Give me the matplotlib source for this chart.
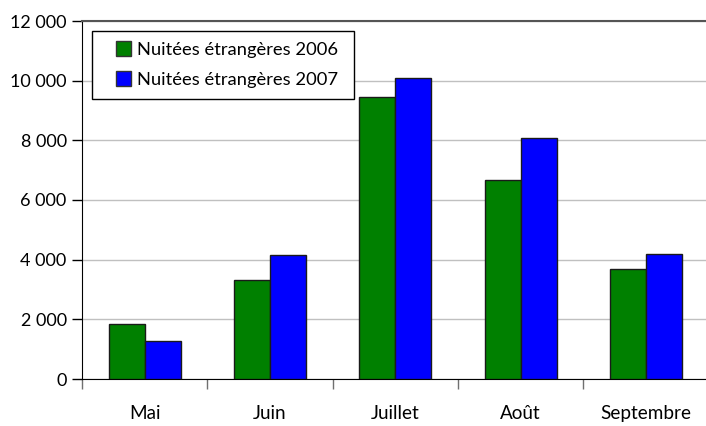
import matplotlib.pyplot as plt
import numpy as np
from matplotlib.ticker import FuncFormatter
from matplotlib.patches import Rectangle
from matplotlib.legend_handler import HandlerPatch, update_from_first_child
from matplotlib.container import BarContainer

plt.rcParams.update({"font.family": ["Lato", "DejaVu Sans"], "font.size": 13})

mois = ['Mai', 'Juin', 'Juillet', 'Août', 'Septembre']
nuitees_2006 = [1850, 3320, 9450, 6670, 3690]
nuitees_2007 = [1280, 4160, 10080, 8080, 4190]
yticks = [0, 2000, 4000, 6000, 8000, 10000, 12000]

fig = plt.figure(figsize=(7.06, 4.26), dpi=100)
ax = fig.add_axes([82 / 706, 47 / 426, 626.5 / 706, 358 / 426])

x = np.arange(len(mois))
w = 0.287
ax.bar(x - w / 2, nuitees_2006, w, color='#008000', edgecolor='#1a1a1a', linewidth=1,
       label='Nuitées étrangères 2006 ', zorder=3)
ax.bar(x + w / 2, nuitees_2007, w, color='#0000ff', edgecolor='#1a1a1a', linewidth=1,
       label='Nuitées étrangères 2007 ', zorder=3)

ax.set_xlim(-0.5, len(mois) - 0.5)
ax.set_ylim(0, 12000)
ax.set_yticks(yticks)
ax.yaxis.set_major_formatter(FuncFormatter(lambda v, p: f'{int(v):,}'.replace(',', ' ')))
ax.yaxis.grid(True, color='#c0c0c0', linewidth=1, zorder=0)
ax.tick_params(axis='y', direction='out', length=7, width=1, color='black', pad=4)

ax.set_xticks(x)
ax.set_xticklabels(mois, fontsize=13.6)
ax.set_xticks(np.arange(-0.5, len(mois)), minor=True)
ax.tick_params(axis='x', which='major', length=0, pad=19)
ax.tick_params(axis='x', which='minor', direction='out', length=7, width=1, color='#707070')

ax.spines['top'].set_color('#555555')
ax.spines['top'].set_linewidth(1.5)
ax.spines['right'].set_visible(False)
ax.spines['left'].set_color('black')
ax.spines['bottom'].set_color('black')


def carre(legend, orig_handle, xdescent, ydescent, width, height, fontsize):
    s = height * 1.1
    return Rectangle((-xdescent + width - s, -ydescent + (height - s) / 2), s, s)


leg = ax.legend(loc='upper left', bbox_to_anchor=(0.016, 0.972), borderaxespad=0,
                fancybox=False, edgecolor='black', framealpha=1, fontsize=13.2,
                handlelength=1.5, handleheight=0.75, handletextpad=0.35,
                borderpad=0.6, labelspacing=0.75,
                handler_map={BarContainer: HandlerPatch(patch_func=carre,
                                                        update_func=update_from_first_child)})
leg.get_frame().set_linewidth(1)
for p in leg.get_patches():
    p.set_edgecolor('#333333')

plt.savefig('out.png', dpi=100)
